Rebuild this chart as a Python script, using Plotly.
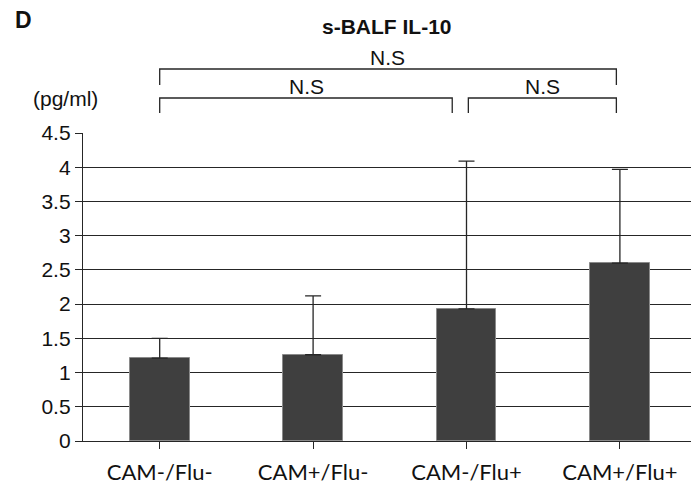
import plotly.graph_objects as go

categories = ["CAM-/Flu-", "CAM+/Flu-", "CAM-/Flu+", "CAM+/Flu+"]
means = [1.21, 1.26, 1.93, 2.60]
sd_upper = [0.29, 0.86, 2.16, 1.37]
y_ticks = [0, 0.5, 1, 1.5, 2, 2.5, 3, 3.5, 4, 4.5]
y_ticktext = ["0", "0.5", "1", "1.5", "2", "2.5", "3", "3.5", "4", "4.5"]
comparisons = [(0, 3, "N.S"), (0, 2, "N.S"), (2, 3, "N.S")]

W, H = 691, 485
ML, MR, MT, MB = 83, 0, 133, 44
cat_px = 153.4
x_right = -0.5 + (W - ML - MR) / cat_px

fig = go.Figure()
fig.add_trace(go.Bar(
    x=list(range(len(categories))), y=means, width=0.39,
    marker=dict(color="#3f3f3f", line=dict(color="#8a8a8a", width=1)),
    error_y=dict(type="data", array=sd_upper, arrayminus=[0] * len(means),
                 symmetric=False, width=8, thickness=1.3, color="#262626"),
    showlegend=False,
))

line_col = "#262626"
plot_h = H - MT - MB


def py2paper(py):
    return (H - MB - py) / plot_h


# brackets: top (all), lower left, lower right
brackets = [
    (0.0, 2.977, 69, 85, 387.5, 57.5),
    (0.0, 1.907, 98, 113, 306, 86),
    (2.012, 2.977, 98, 113, 542, 86),
]
for (x0, x1, ytop, ybot, tx, ty), (_, _, label) in zip(brackets, comparisons):
    fig.add_shape(type="path",
                  path=f"M {x0} {py2paper(ybot)} L {x0} {py2paper(ytop)} L {x1} {py2paper(ytop)} L {x1} {py2paper(ybot)}",
                  xref="x", yref="paper", line=dict(color=line_col, width=1.3))
    fig.add_annotation(x=-0.5 + (tx - ML) / cat_px, y=py2paper(ty), xref="x", yref="paper",
                       text=label, showarrow=False, xanchor="center", yanchor="middle",
                       font=dict(family="Liberation Sans, Arial", size=21, color="#111"))

fig.add_annotation(x=(387 - ML) / (W - ML - MR), y=py2paper(26), xref="paper", yref="paper",
                   text="<b>s-BALF IL-10</b>", showarrow=False, xanchor="center", yanchor="middle",
                   font=dict(family="Liberation Sans, Arial", size=21, color="#111"))
fig.add_annotation(x=(13 - ML) / (W - ML - MR), y=py2paper(20), xref="paper", yref="paper",
                   text="<b>D</b>", showarrow=False, xanchor="left", yanchor="middle",
                   font=dict(family="Liberation Sans, Arial", size=23, color="#111"))
fig.add_annotation(x=(65.5 - ML) / (W - ML - MR), y=py2paper(99), xref="paper", yref="paper",
                   text="(pg/ml)", showarrow=False, xanchor="center", yanchor="middle",
                   font=dict(family="Liberation Sans, Arial", size=21, color="#111"))

fig.update_layout(
    width=W, height=H,
    margin=dict(l=ML, r=MR, t=MT, b=MB, pad=0),
    paper_bgcolor="white", plot_bgcolor="white",
    bargap=0,
    xaxis=dict(range=[-0.5, x_right], tickmode="array", tickvals=list(range(len(categories))),
               ticktext=categories, tickson="boundaries", ticks="outside", ticklen=7,
               tickcolor=line_col, tickwidth=1.3, showline=True, linecolor=line_col, linewidth=1.3,
               showgrid=False, zeroline=False, ticklabelstandoff=4,
               tickfont=dict(family="Lato, Carlito, Calibri", size=22, color="#111")),
    yaxis=dict(range=[0, 4.5], tickmode="array", tickvals=y_ticks, ticktext=y_ticktext,
               ticks="outside", ticklen=7, tickcolor=line_col, tickwidth=1.3,
               showline=True, linecolor=line_col, linewidth=1.3,
               showgrid=True, gridcolor=line_col, gridwidth=1.3, zeroline=False,
               tickfont=dict(family="Liberation Sans, Arial", size=21, color="#111")),
)

fig.write_html("out.html")
